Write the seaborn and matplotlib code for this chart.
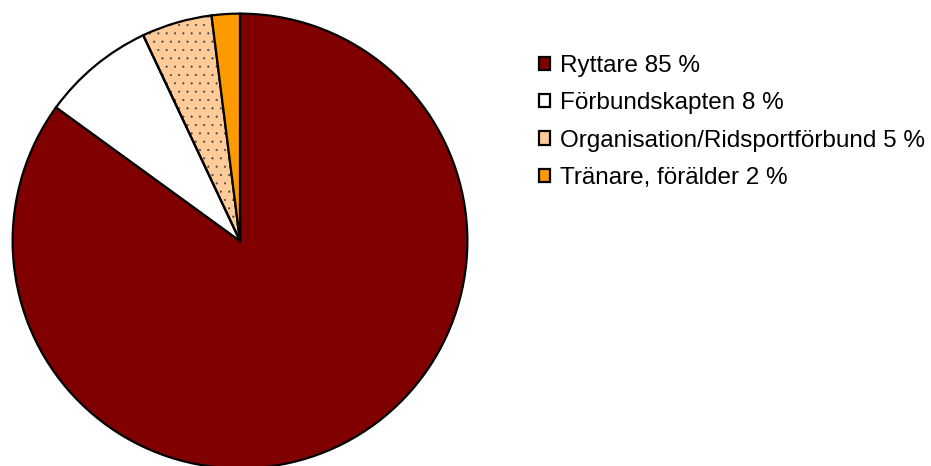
import matplotlib
matplotlib.use('Agg')
import matplotlib.pyplot as plt
from matplotlib.patches import Wedge
import seaborn as sns

# Data
categories = ['Ryttare', 'Förbundskapten', 'Organisation/Ridsportförbund', 'Tränare, förälder']
shares = [85, 8, 5, 2]
colors = ['#800000', '#FFFFFF', '#FFCC99', '#FF9900']
hatches = ['', '', '..', '']

sns.set_style('white')
plt.rcParams['font.family'] = ['Liberation Sans', 'DejaVu Sans']
plt.rcParams['hatch.linewidth'] = 0.3
plt.rcParams['text.color'] = 'black'

fig = plt.figure(figsize=(9.31, 4.66), dpi=100)
# pie axes placed in pixels: left 11.5, top 12.5, size 457
ax = fig.add_axes([11.5 / 931, (466 - 469.5) / 466, 457 / 931, 457 / 466])

wedges, _ = ax.pie(shares, colors=colors, startangle=90, counterclock=False,
                   wedgeprops={'edgecolor': 'black', 'linewidth': 1.6},
                   radius=1.0)
# dotted pattern overlay in grey (hatch colour follows edgecolor)
for w, h, c in zip(wedges, hatches, colors):
    if h:
        bg = Wedge(w.center, w.r, w.theta1, w.theta2, facecolor=c,
                   linewidth=0, zorder=w.get_zorder() - 0.3)
        ov = Wedge(w.center, w.r, w.theta1, w.theta2, facecolor='none',
                   edgecolor='#444444', linewidth=0, hatch=h, zorder=w.get_zorder() - 0.1)
        ax.add_patch(bg)
        ax.add_patch(ov)
        w.set_facecolor('none')
ax.set_xlim(-1.005, 1.005)
ax.set_ylim(-1.005, 1.005)
ax.set_aspect('equal')
ax.axis('off')

labels = [f'{c} {v} %' for c, v in zip(categories, shares)]
handles = [plt.Rectangle((0, 0), 1, 1, facecolor=c, edgecolor='black', linewidth=1.6) for c in colors]
leg = fig.legend(handles, labels, loc='center left',
                 bbox_to_anchor=(539 / 931, (466 - 122) / 466),
                 frameon=False, fontsize=17.5, handlelength=0.47, handleheight=0.47,
                 handletextpad=0.4, labelspacing=0.63, borderpad=0, borderaxespad=0)

fig.savefig('out.png', dpi=100)
